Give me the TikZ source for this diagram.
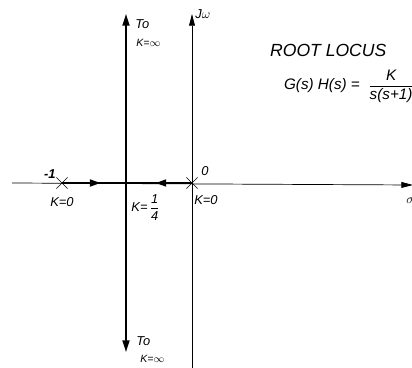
\documentclass[tikz,border=0pt]{standalone}
\usepackage{amsmath}
\usepackage{fontspec}
\setmainfont{Liberation Sans}
\usetikzlibrary{arrows.meta,positioning,shapes.misc,decorations.markings}

\begin{document}
\begin{tikzpicture}[x=0.03cm, y=-0.03cm,
    axis/.style={semithick, -{Triangle[length=10pt, width=5pt]}},
    locus/.style={line width=1.4pt},
    tip/.style={-{Triangle[length=10pt, width=6pt]}},
    mid/.style={postaction={decorate}, decoration={markings,
                mark=at position #1 with {\arrow{Triangle[length=9pt, width=6pt]}}}},
    pole/.style={draw, cross out, semithick, minimum size=9pt, inner sep=0pt},
    lbl/.style={font=\fontsize{11}{13}\selectfont\itshape, inner sep=1pt},
    small/.style={font=\small\itshape, inner sep=1pt}
  ]
    \useasboundingbox (0,0) rectangle (412,368);

    % axes
    \coordinate (xl) at (12,183);
    \coordinate (xr) at (413,185);
    \coordinate (wb) at (192,368);
    \coordinate (wt) at (192,14);
    \draw[axis] (xl) -- (xr);
    \draw[axis] (wb) -- (wt);

    % poles and breakaway point
    \node[pole] (pm1) at (62,183) {};
    \node[pole] (p0)  at (192,183) {};
    \coordinate (brk) at (126,183);
    \coordinate (up)  at (126,14);
    \coordinate (dn)  at (126,352);

    % locus branches
    \draw[locus, mid=0.6]  (pm1.center) -- (brk);
    \draw[locus, mid=0.55] (p0.center) -- (brk);
    \draw[locus, tip] (brk) -- (up);
    \draw[locus, tip] (brk) -- (dn);

    % labels
    \node[lbl, anchor=south east] (m1) at (57,180) {\textbf{-1}};
    \node[lbl, below=6pt of pm1] {K=0};
    \node[lbl, above right=0pt and 2pt of p0] {0};
    \node[lbl, below right=5pt and -4pt of p0] {K=0};
    \node[lbl, anchor=north west] (kq) at (130,193) {K=\,$\dfrac{\text{1}}{\text{4}}$};
    \node[lbl, anchor=south west] (jw) at (194,20) {J$\omega$};
    \node[lbl, anchor=west] (sig) at (405,201) {$\sigma$};

    \node[lbl, anchor=west] (to1) at (134,24) {To};
    \node[small, anchor=west] (ki1) at (135,43) {K=$\infty$};
    \node[lbl, anchor=west] (to2) at (135,341) {To};
    \node[small, anchor=west] (ki2) at (139,359) {K=$\infty$};

    \node[font=\fontsize{15}{17}\selectfont\itshape, anchor=west] (title) at (266,50) {ROOT LOCUS};
    \node[font=\fontsize{13}{15}\selectfont\itshape, anchor=west] (tf) at (280,86)
         {G(s) H(s) = \ $\dfrac{\text{K}}{\text{s(s+1)}}$};
  \end{tikzpicture}
\end{document}
